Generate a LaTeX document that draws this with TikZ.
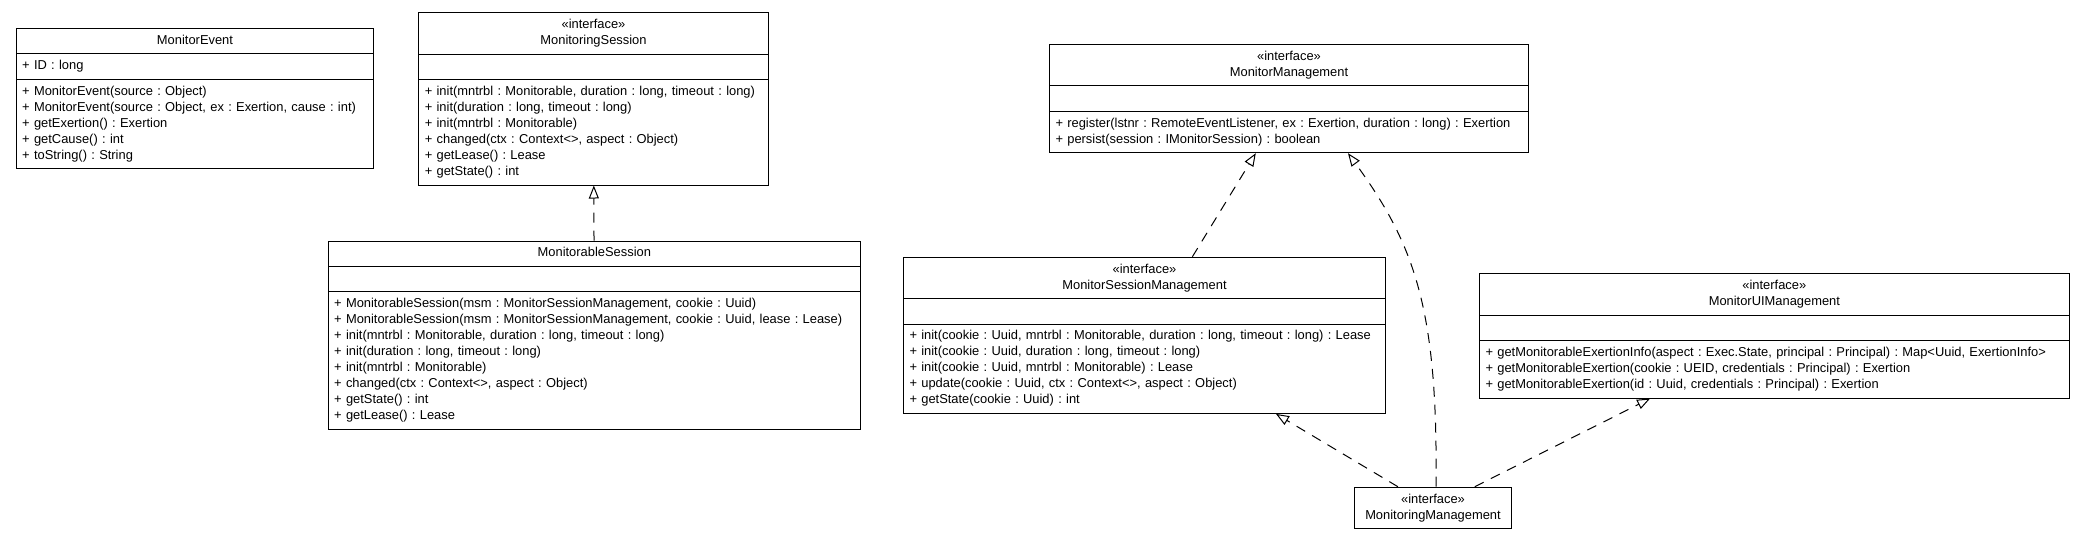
\documentclass[tikz,border=0pt]{standalone}
\usepackage{fontspec}
\setmainfont{Liberation Sans}
\usetikzlibrary{shapes.multipart,arrows.meta}
\frenchspacing

% one line of a compartment
\newcommand{\umlrow}[1]{\mbox{\strut#1}\par}
\newcommand{\umltitle}[1]{\centering\strut#1\par}

\begin{document}
\begin{tikzpicture}[
    x=1pt, y=1pt,
    every node/.style={font=\fontsize{12.9}{16}\selectfont\frenchspacing},
    umlclass/.style={draw, line width=1pt, rectangle split, rectangle split parts=3,
        anchor=north west, inner xsep=6pt, inner ysep=4.2pt, align=left},
    umliface/.style={draw, line width=1pt, anchor=north west, inner sep=0pt, align=center},
    realize/.style={draw, line width=1pt, dash pattern=on 10pt off 8pt,
        -{Triangle[open, length=13pt, width=10pt]}}
]
    \useasboundingbox (0,0) rectangle (2083,-539);

    % Left group
    \node[umlclass, text width=345.6pt] (mevent) at (15.7,-28) {
        \umltitle{MonitorEvent}
        \nodepart{second}
        \umlrow{+ ID : long}
        \nodepart{third}
        \umlrow{+ MonitorEvent(source : Object)}
        \umlrow{+ MonitorEvent(source : Object, ex : Exertion, cause : int)}
        \umlrow{+ getExertion() : Exertion}
        \umlrow{+ getCause() : int}
        \umlrow{+ toString() : String}
    };

    \node[umlclass, text width=337.4pt] (msession) at (418.3,-12.3) {
        \umltitle{«interface»}
        \umltitle{MonitoringSession}
        \nodepart{second}
        \strut
        \nodepart{third}
        \umlrow{+ init(mntrbl : Monitorable, duration : long, timeout : long)}
        \umlrow{+ init(duration : long, timeout : long)}
        \umlrow{+ init(mntrbl : Monitorable)}
        \umlrow{+ changed(ctx : Context<>, aspect : Object)}
        \umlrow{+ getLease() : Lease}
        \umlrow{+ getState() : int}
    };

    \node[umlclass, text width=520.3pt] (mbsession) at (327.7,-240.5) {
        \umltitle{MonitorableSession}
        \nodepart{second}
        \strut
        \nodepart{third}
        \umlrow{+ MonitorableSession(msm : MonitorSessionManagement, cookie : Uuid)}
        \umlrow{+ MonitorableSession(msm : MonitorSessionManagement, cookie : Uuid, lease : Lease)}
        \umlrow{+ init(mntrbl : Monitorable, duration : long, timeout : long)}
        \umlrow{+ init(duration : long, timeout : long)}
        \umlrow{+ init(mntrbl : Monitorable)}
        \umlrow{+ changed(ctx : Context<>, aspect : Object)}
        \umlrow{+ getState() : int}
        \umlrow{+ getLease() : Lease}
    };

    % Management interfaces
    \node[umlclass, text width=467pt] (mmanage) at (1049,-44) {
        \umltitle{«interface»}
        \umltitle{MonitorManagement}
        \nodepart{second}
        \strut
        \nodepart{third}
        \umlrow{+ register(lstnr : RemoteEventListener, ex : Exertion, duration : long) : Exertion}
        \umlrow{+ persist(session : IMonitorSession) : boolean}
    };

    \node[umlclass, text width=470pt] (msmanage) at (903,-256.7) {
        \umltitle{«interface»}
        \umltitle{MonitorSessionManagement}
        \nodepart{second}
        \strut
        \nodepart{third}
        \umlrow{+ init(cookie : Uuid, mntrbl : Monitorable, duration : long, timeout : long) : Lease}
        \umlrow{+ init(cookie : Uuid, duration : long, timeout : long)}
        \umlrow{+ init(cookie : Uuid, mntrbl : Monitorable) : Lease}
        \umlrow{+ update(cookie : Uuid, ctx : Context<>, aspect : Object)}
        \umlrow{+ getState(cookie : Uuid) : int}
    };

    \node[umlclass, text width=577.7pt] (muimanage) at (1479,-273.3) {
        \umltitle{«interface»}
        \umltitle{MonitorUIManagement}
        \nodepart{second}
        \strut
        \nodepart{third}
        \umlrow{+ getMonitorableExertionInfo(aspect : Exec.State, principal : Principal) : Map<Uuid, ExertionInfo>}
        \umlrow{+ getMonitorableExertion(cookie : UEID, credentials : Principal) : Exertion}
        \umlrow{+ getMonitorableExertion(id : Uuid, credentials : Principal) : Exertion}
    };

    \node[umliface, minimum width=156.4pt, minimum height=41pt] (mmanaging) at (1354.3,-486.7)
        {«interface»\\MonitoringManagement};

    % Realizations
    \draw[realize] (mbsession) -- (msession);
    \draw[realize] (msmanage) -- (mmanage);
    \draw[realize] (mmanaging) -- (msmanage);
    \draw[realize] (mmanaging) -- (muimanage);
    \draw[realize] ([xshift=3pt]mmanaging.north) .. controls +(2,177) and +(67,-92) .. ([xshift=59pt]mmanage.south);
\end{tikzpicture}
\end{document}
